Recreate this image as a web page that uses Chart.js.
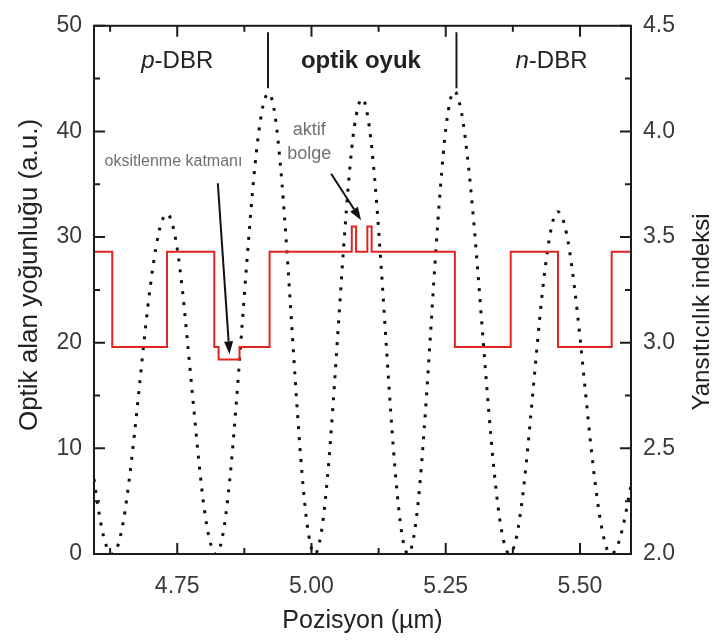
<!DOCTYPE html>
<html>
<head>
<meta charset="utf-8">
<script src="https://cdn.jsdelivr.net/npm/chart.js@4.4.1/dist/chart.umd.min.js"></script>
<style>
  html, body { margin: 0; padding: 0; background: #fff; }
  #wrap { width: 716px; height: 643px; }
</style>
</head>
<body>
<div id="wrap"><canvas id="c" width="716" height="643"></canvas></div>
<script>
// Position axis (µm)
const xRange = [4.595, 5.595];
const xMajorTicks = [4.75, 5.00, 5.25, 5.50];
const xMinorTicks = [4.625, 4.875, 5.125, 5.375];

// Left axis: optical field intensity (a.u.)
const leftRange = [0, 50];
const leftMajorTicks = [0, 10, 20, 30, 40, 50];
const leftMinorTicks = [5, 15, 25, 35, 45];

// Right axis: refractive index
const rightRange = [2.0, 4.5];
const rightMajorTicks = [2.0, 2.5, 3.0, 3.5, 4.0, 4.5];
const rightMinorTicks = [2.25, 2.75, 3.25, 3.75, 4.25];

// Standing-wave field intensity along the structure
const fieldX = [
  4.595, 4.600, 4.610, 4.620, 4.628,
  4.640, 4.650, 4.660, 4.670, 4.680, 4.690, 4.700, 4.710, 4.720, 4.731,
  4.740, 4.750, 4.760, 4.770, 4.780, 4.790, 4.800, 4.810, 4.822,
  4.830, 4.840, 4.850, 4.860, 4.870, 4.880, 4.890, 4.900, 4.910, 4.920,
  4.930, 4.940, 4.950, 4.960, 4.970, 4.980, 4.990, 5.000, 5.006,
  5.010, 5.020, 5.030, 5.040, 5.050, 5.060, 5.070, 5.080, 5.094,
  5.100, 5.110, 5.120, 5.130, 5.140, 5.150, 5.160, 5.170, 5.180,
  5.190, 5.200, 5.210, 5.220, 5.230, 5.240, 5.250, 5.260, 5.266,
  5.270, 5.280, 5.290, 5.300, 5.310, 5.320, 5.330, 5.340, 5.350, 5.360, 5.369,
  5.380, 5.390, 5.400, 5.410, 5.420, 5.430, 5.440, 5.450, 5.459,
  5.470, 5.480, 5.490, 5.500, 5.510, 5.520, 5.530, 5.540, 5.550, 5.558,
  5.570, 5.580, 5.595
];
const fieldY = [
  7.1, 5.3, 2.3, 0.5, 0.0,
  0.9, 3.2, 6.8, 11.2, 16.1, 21.0, 25.4, 28.9, 31.3, 32.2,
  31.4, 28.9, 24.8, 19.6, 14.2, 8.9, 4.4, 1.4, 0.0,
  0.7, 3.5, 8.2, 14.3, 21.1, 27.9, 34.2, 39.2, 42.5, 43.6,
  42.2, 38.0, 31.8, 24.2, 16.3, 9.1, 3.6, 0.5, 0.0,
  0.2, 2.6, 7.4, 14.0, 21.6, 29.1, 35.7, 40.5, 43.1,
  42.6, 39.5, 34.1, 27.0, 19.2, 11.7, 5.5, 1.4, 0.0,
  1.5, 5.6, 11.9, 19.5, 27.5, 34.6, 40.2, 43.3, 43.8,
  43.6, 41.6, 37.8, 32.7, 26.6, 20.0, 13.6, 7.9, 3.5, 0.8, 0.0,
  1.2, 4.2, 8.6, 14.0, 19.6, 24.8, 28.9, 31.6, 32.4,
  31.4, 28.9, 25.1, 20.5, 15.4, 10.4, 6.0, 2.6, 0.5, 0.0,
  0.8, 2.6, 6.5
];

// Layer boundaries and the refractive index of each layer
const layerStart = [4.595, 4.629, 4.731, 4.819, 4.827, 4.866, 4.922, 5.075, 5.083,
                    5.104, 5.112, 5.267, 5.371, 5.459, 5.559, 5.595];
const layerIndex = [3.43, 2.98, 3.43, 2.98, 2.92, 2.98, 3.43, 3.55, 3.43,
                    3.55, 3.43, 2.98, 3.43, 2.98, 3.43, 3.43];

// Region labels along the top and their dividers
const regionLabels = [
  { pre: 'p', text: '-DBR', x: 4.750, bold: false },
  { pre: '',  text: 'optik oyuk', x: 5.092, bold: true },
  { pre: 'n', text: '-DBR', x: 5.447, bold: false }
];
const regionDividers = [4.919, 5.270];

const FONT = '"Liberation Sans", Arial, Helvetica, sans-serif';
const INK = '#1c1c1c';

const decorations = {
  id: 'decorations',
  afterDraw(chart) {
    const { ctx, chartArea: a, scales } = chart;
    const xs = scales.x, yl = scales.y, yr = scales.y1;
    ctx.save();

    // plot frame
    ctx.strokeStyle = INK;
    ctx.lineWidth = 2;
    ctx.strokeRect(a.left, a.top, a.right - a.left, a.bottom - a.top);

    // inward tick marks on all four sides
    ctx.lineWidth = 2;
    ctx.beginPath();
    const hTick = (v, len) => {
      const px = xs.getPixelForValue(v);
      ctx.moveTo(px, a.bottom); ctx.lineTo(px, a.bottom - len);
      ctx.moveTo(px, a.top); ctx.lineTo(px, a.top + len);
    };
    xMajorTicks.forEach(v => hTick(v, 11));
    xMinorTicks.forEach(v => hTick(v, 6));
    const lTick = (v, len) => {
      const py = yl.getPixelForValue(v);
      ctx.moveTo(a.left, py); ctx.lineTo(a.left + len, py);
    };
    leftMajorTicks.forEach(v => lTick(v, 11));
    leftMinorTicks.forEach(v => lTick(v, 6));
    const rTick = (v, len) => {
      const py = yr.getPixelForValue(v);
      ctx.moveTo(a.right, py); ctx.lineTo(a.right - len, py);
    };
    rightMajorTicks.forEach(v => rTick(v, 11));
    rightMinorTicks.forEach(v => rTick(v, 6));
    ctx.stroke();

    // region dividers
    ctx.beginPath();
    regionDividers.forEach(v => {
      const px = xs.getPixelForValue(v);
      ctx.moveTo(px, yl.getPixelForValue(49.4));
      ctx.lineTo(px, yl.getPixelForValue(44.1));
    });
    ctx.stroke();

    // region labels
    ctx.fillStyle = '#222';
    ctx.textBaseline = 'middle';
    const ly = yl.getPixelForValue(46.6);
    regionLabels.forEach(r => {
      const w = r.bold ? 'bold ' : '';
      ctx.font = 'italic ' + w + '24px ' + FONT;
      const w1 = r.pre ? ctx.measureText(r.pre).width : 0;
      ctx.font = w + '24px ' + FONT;
      const w2 = ctx.measureText(r.text).width;
      let px = xs.getPixelForValue(r.x) - (w1 + w2) / 2;
      ctx.textAlign = 'left';
      if (r.pre) {
        ctx.font = 'italic ' + w + '24px ' + FONT;
        ctx.fillText(r.pre, px, ly);
        px += w1;
      }
      ctx.font = w + '24px ' + FONT;
      ctx.fillText(r.text, px, ly);
    });

    // annotations with arrows
    const arrow = (x0, y0, x1, y1) => {
      const p0 = [xs.getPixelForValue(x0), yl.getPixelForValue(y0)];
      const p1 = [xs.getPixelForValue(x1), yl.getPixelForValue(y1)];
      const ang = Math.atan2(p1[1] - p0[1], p1[0] - p0[0]);
      const hl = 13, hw = 4.5;
      const bx = p1[0] - hl * Math.cos(ang), by = p1[1] - hl * Math.sin(ang);
      ctx.strokeStyle = '#111';
      ctx.fillStyle = '#111';
      ctx.lineWidth = 2;
      ctx.beginPath();
      ctx.moveTo(p0[0], p0[1]);
      ctx.lineTo(bx, by);
      ctx.stroke();
      ctx.beginPath();
      ctx.moveTo(p1[0], p1[1]);
      ctx.lineTo(bx + hw * Math.sin(ang), by - hw * Math.cos(ang));
      ctx.lineTo(bx - hw * Math.sin(ang), by + hw * Math.cos(ang));
      ctx.closePath();
      ctx.fill();
    };
    arrow(4.8256, 35.1, 4.8473, 18.9);
    arrow(5.0366, 36.0, 5.0924, 31.6);

    ctx.fillStyle = '#707070';
    ctx.textAlign = 'center';
    ctx.textBaseline = 'middle';
    ctx.font = '16px ' + FONT;
    ctx.fillText('oksitlenme katmanı', xs.getPixelForValue(4.743), yl.getPixelForValue(37.1));
    ctx.font = '18px ' + FONT;
    ctx.fillText('aktif', xs.getPixelForValue(4.996), yl.getPixelForValue(40.1));
    ctx.fillText('bolge', xs.getPixelForValue(4.996), yl.getPixelForValue(37.9));

    // axis titles
    ctx.fillStyle = '#222';
    ctx.font = '25px ' + FONT;
    ctx.textAlign = 'center';
    ctx.textBaseline = 'middle';
    ctx.fillText('Pozisyon (\u00b5m)', (a.left + a.right) / 2, 621);

    ctx.save();
    ctx.font = '26px ' + FONT;
    ctx.translate(30, 275);
    ctx.rotate(-Math.PI / 2);
    ctx.fillText('Optik alan yoğunluğu (a.u.)', 0, 0);
    ctx.restore();

    ctx.save();
    ctx.font = '24px ' + FONT;
    ctx.translate(702, 312);
    ctx.rotate(-Math.PI / 2);
    ctx.fillText('Yansıtıcılık indeksi', 0, 0);
    ctx.restore();

    ctx.restore();
  }
};

const tickFont = { family: FONT, size: 23 };
const tickColor = '#3a3a3a';

new Chart(document.getElementById('c'), {
  type: 'line',
  data: {
    datasets: [
      {
        label: 'Yansıtıcılık indeksi',
        data: layerStart.map((x, i) => ({ x, y: layerIndex[i] })),
        yAxisID: 'y1',
        stepped: 'before',
        borderColor: '#e3231f',
        borderWidth: 2,
        pointRadius: 0,
        fill: false
      },
      {
        label: 'Optik alan yoğunluğu',
        data: fieldX.map((x, i) => ({ x, y: fieldY[i] })),
        yAxisID: 'y',
        borderColor: '#111',
        borderWidth: 3,
        borderDash: [3, 8],
        borderCapStyle: 'butt',
        cubicInterpolationMode: 'monotone',
        pointRadius: 0,
        fill: false
      }
    ]
  },
  options: {
    responsive: false,
    animation: false,
    devicePixelRatio: 1,
    layout: { padding: { top: 18, left: 0, right: 0, bottom: 0 } },
    plugins: { legend: { display: false }, tooltip: { enabled: false } },
    scales: {
      x: {
        type: 'linear',
        min: xRange[0],
        max: xRange[1],
        afterBuildTicks: s => { s.ticks = xMajorTicks.map(value => ({ value })); },
        afterFit: s => { s.height = 89; },
        grid: { display: false, drawTicks: false },
        border: { display: false },
        ticks: {
          font: tickFont, color: tickColor, padding: 19, maxRotation: 0,
          callback: v => Number(v).toFixed(2)
        }
      },
      y: {
        position: 'left',
        min: leftRange[0],
        max: leftRange[1],
        afterBuildTicks: s => { s.ticks = leftMajorTicks.map(value => ({ value })); },
        afterFit: s => { s.width = 94; },
        grid: { display: false, drawTicks: false },
        border: { display: false },
        ticks: { font: tickFont, color: tickColor, padding: 12, callback: v => String(v) }
      },
      y1: {
        position: 'right',
        min: rightRange[0],
        max: rightRange[1],
        afterBuildTicks: s => { s.ticks = rightMajorTicks.map(value => ({ value })); },
        afterFit: s => { s.width = 85; },
        grid: { display: false, drawTicks: false },
        border: { display: false },
        ticks: { font: tickFont, color: tickColor, padding: 12, callback: v => Number(v).toFixed(1) }
      }
    }
  },
  plugins: [decorations]
});
</script>
</body>
</html>
